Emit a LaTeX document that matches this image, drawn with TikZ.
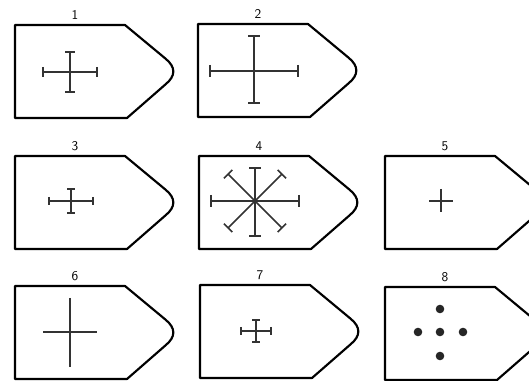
\documentclass[tikz,border=0pt]{standalone}
\newcommand{\barcross}[5]{% centre, half width, up, down, bar
  \begin{scope}[shift={(#1)}]
    \draw[sign] (-#2,0) -- (#2,0) (0,-#3) -- (0,#4);
    \draw[sign] (-#2,-#5) -- (-#2,#5) (#2,-#5) -- (#2,#5)
                (-#5,-#3) -- (#5,-#3) (-#5,#4) -- (#5,#4);
  \end{scope}}
\begin{document}
\begin{tikzpicture}[
  x=0.75pt, y=-0.75pt,
  outline/.style={line width=1.6pt, line join=round},
  sign/.style={line width=1.1pt, black!80},
  num/.style={font=\sffamily\fontsize{10}{12}\selectfont, inner sep=0pt},
  pics/shield/.style={code={
    \draw[outline] (0,0) -- (110,0) -- (150.6,33.7)
      .. controls (160.9,42.2) and (160.9,50.8) .. (150.6,59.3)
      -- (112,93) -- (0,93) -- cycle;
    \node[num] (-num) at (60,-10) {#1};
  }}
]
\path[use as bounding box] (0,0) rectangle (529,381);
\clip (0,0) rectangle (529,381);

% shields
\pic (s1) at (15,25) {shield=1};
\pic (s2) at (198,24) {shield=2};
\pic (s3) at (15,156) {shield=3};
\pic (s4) at (199,156) {shield=4};
\pic (s5) at (385,156) {shield=5};
\pic (s6) at (15,286) {shield=6};
\pic (s7) at (200,285) {shield=7};
\pic (s8) at (385,287) {shield=8};

% signs
\barcross{70,72}{27}{20}{20}{5}
\barcross{254,71}{44}{35}{32}{6}
\barcross{71,201}{22}{12}{12}{4}
\barcross{256,331}{15}{11}{11}{4}

\begin{scope}[shift={(255,201)}]
  \draw[sign] (-44,0) -- (44,0) (0,-33) -- (0,35);
  \draw[sign] (-44,-6) -- (-44,6) (44,-6) -- (44,6)
              (-6,-33) -- (6,-33) (-6,35) -- (6,35);
  \foreach \a in {45,135,225,315}
    \draw[sign, rotate=\a] (0,0) -- (38,0) (38,-6) -- (38,6);
\end{scope}

\draw[sign] (429,201) -- (453,201) (441,189) -- (441,212);
\draw[sign] (43,332) -- (97,332) (70,298) -- (70,367);

\foreach \p in {(440,332),(418,332),(463,332),(440,309),(440,356)}
  \fill[black!85] \p circle (4.3);
\end{tikzpicture}
\end{document}
